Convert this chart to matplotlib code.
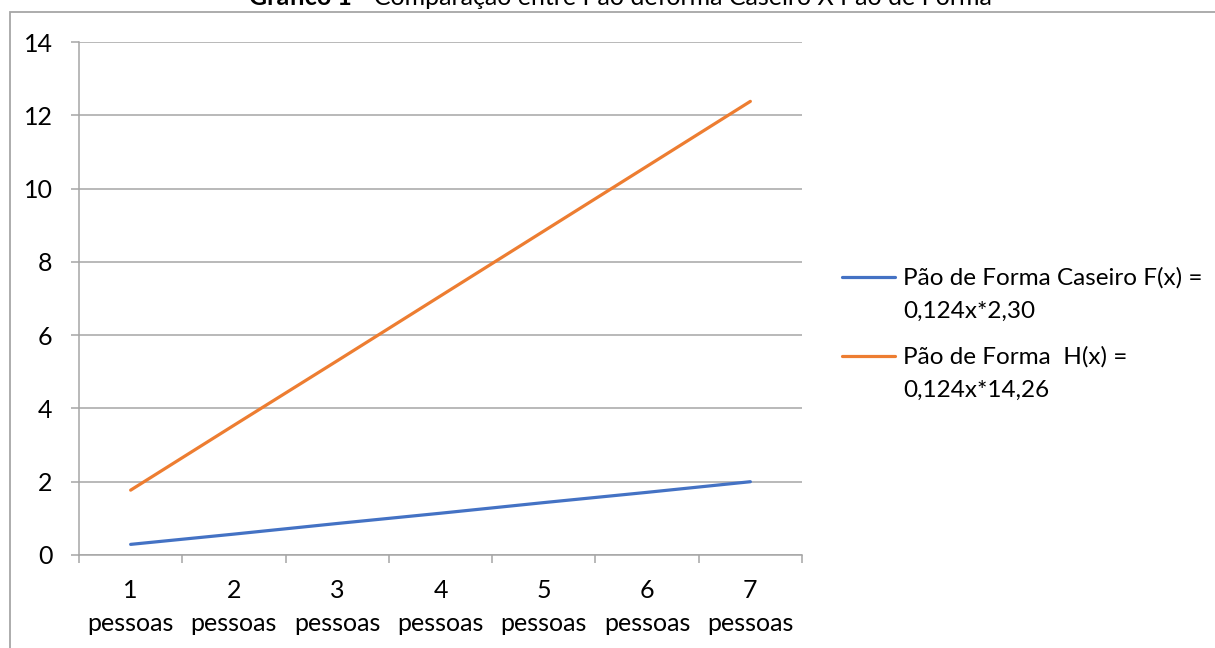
import numpy as np
import matplotlib
matplotlib.use("Agg")
import matplotlib.pyplot as plt
from matplotlib.legend_handler import HandlerLine2D
from matplotlib.lines import Line2D
from matplotlib.patches import Rectangle

plt.rcParams['font.family'] = ['Lato', 'DejaVu Sans']

# Data
categories = ["1\npessoas", "2\npessoas", "3\npessoas", "4\npessoas",
              "5\npessoas", "6\npessoas", "7\npessoas"]
caseiro = [0.29, 0.57, 0.86, 1.14, 1.43, 1.71, 2.00]
forma = [1.77, 3.54, 5.30, 7.07, 8.84, 10.61, 12.38]
series_labels = ["Pão de Forma Caseiro F(x) =\n0,124x*2,30",
                 "Pão de Forma  H(x) =\n0,124x*14,26"]
y_ticks = [0, 2, 4, 6, 8, 10, 12, 14]
title_bold = "Gráfico 1"
title_rest = " - Comparação entre Pão deforma Caseiro X Pão de Forma"

BLUE = "#4472C4"
ORANGE = "#ED7D31"
GRID = "#A6A6A6"
FS = 18
LEG_FS = 17.5
LEG_PITCH = 34  # baseline-to-baseline distance of legend label rows, px

W, H = 1215, 648
fig = plt.figure(figsize=(W / 100, H / 100), dpi=100)
ax = fig.add_axes([79 / W, 1 - 555 / H, 723 / W, 513 / H])

x = np.arange(len(categories))
l1, = ax.plot(x, caseiro, color=BLUE, lw=2.3, solid_capstyle='round')
l2, = ax.plot(x, forma, color=ORANGE, lw=2.3, solid_capstyle='round')

ax.set_xlim(-0.5, len(categories) - 0.5)
ax.set_ylim(0, 14)
ax.set_yticks(y_ticks)
ax.set_yticklabels([str(v) for v in y_ticks])
ax.yaxis.grid(True, color=GRID, lw=1.1)
ax.set_axisbelow(True)

ax.set_xticks(x)
ax.set_xticklabels(categories, linespacing=1.55)
ax.set_xticks(np.arange(-0.5, len(categories), 1.0), minor=True)
ax.tick_params(axis='x', which='major', length=0, pad=17, labelsize=FS, colors='black')
ax.tick_params(axis='x', which='minor', length=6, width=1.1, color=GRID, direction='out')
ax.tick_params(axis='y', length=6, width=1.1, color=GRID, pad=13, labelsize=FS, labelcolor='black')

for side in ['top', 'right']:
    ax.spines[side].set_visible(False)
for side in ['left', 'bottom']:
    ax.spines[side].set_color(GRID)
    ax.spines[side].set_linewidth(1.1)


class FirstLineHandler(HandlerLine2D):
    """Legend line aligned with the first row of a two-line label."""
    def create_artists(self, legend, orig_handle, xdescent, ydescent,
                       width, height, fontsize, trans):
        artists = super().create_artists(legend, orig_handle, xdescent, ydescent,
                                         width, height, fontsize, trans)
        shift = 0.5 * LEG_PITCH * 72 / 100  # half a row, in points
        for a in artists:
            a.set_ydata(np.asarray(a.get_ydata(), dtype=float) + shift)
        return artists


leg = fig.legend([l1, l2], series_labels, loc='upper left',
                 bbox_to_anchor=(842 / W, 1 - 267 / H),
                 frameon=False, fontsize=LEG_FS, handlelength=2.2,
                 handletextpad=0.3, labelspacing=1.0, borderpad=0,
                 borderaxespad=0,
                 handler_map={Line2D: FirstLineHandler()})

# Set each label's line spacing so its rows sit LEG_PITCH pixels apart
renderer = fig.canvas.get_renderer()
for t in leg.get_texts():
    fp = t.get_fontproperties()
    _, lp_h, lp_d = renderer.get_text_width_height_descent("lp", fp, ismath=False)
    first = t.get_text().split("\n")[0]
    _, h1, d1 = renderer.get_text_width_height_descent(first, fp, ismath=False)
    h1, d1 = max(h1, lp_h), max(d1, lp_d)
    asc = max(h1 - d1, lp_h - lp_d)
    t.set_linespacing((LEG_PITCH - d1) / asc)

# Chart frame
fig.add_artist(Rectangle((10 / W, -0.5), 2.0, (1 - 12 / H) + 0.5,
                         transform=fig.transFigure, fill=False,
                         ec=GRID, lw=1.3))

# Title: bold prefix followed by regular text, centred as a whole
ty = 1 - 5 / H
tb = fig.text(0, ty, title_bold, ha='left', va='baseline',
              fontsize=FS, fontweight='bold')
tr = fig.text(0, ty, title_rest, ha='left', va='baseline', fontsize=FS)
fig.canvas.draw()
wb = tb.get_window_extent().width
wr = tr.get_window_extent().width
x0 = 620 - (wb + wr) / 2
tb.set_x(x0 / W)
tr.set_x((x0 + wb) / W)

fig.savefig("out.png", dpi=100)
